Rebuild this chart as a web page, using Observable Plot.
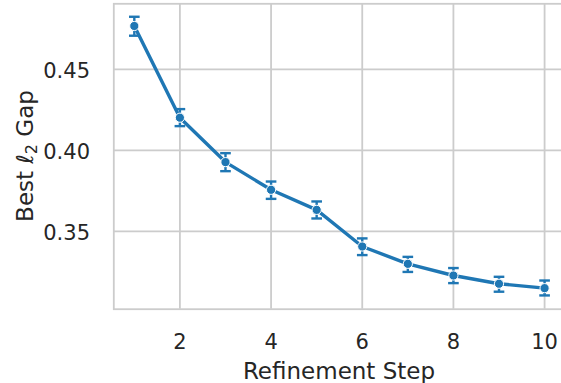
<!DOCTYPE html>
<html>
<head>
<meta charset="utf-8">
<script src="https://cdn.jsdelivr.net/npm/d3@7"></script>
<script src="https://cdn.jsdelivr.net/npm/@observablehq/plot@0.6"></script>
<style>
  html, body { margin: 0; padding: 0; background: #fff; }
  #chart svg { display: block; overflow: hidden; }
</style>
</head>
<body>
<div id="chart"></div>
<script>
// Refinement steps and the mean best l2 gap at each step, with its confidence interval
const steps = [1, 2, 3, 4, 5, 6, 7, 8, 9, 10];
const gap   = [0.4768, 0.4202, 0.3928, 0.3757, 0.3633, 0.3407, 0.3300, 0.3228, 0.3177, 0.3150];
const lower = [0.4708, 0.4150, 0.3872, 0.3701, 0.3580, 0.3354, 0.3250, 0.3181, 0.3128, 0.3105];
const upper = [0.4825, 0.4255, 0.3983, 0.3808, 0.3685, 0.3457, 0.3343, 0.3274, 0.3220, 0.3197];

const xTicks = [2, 4, 6, 8, 10];
const yTicks = [0.35, 0.40, 0.45];
const xLabel = "Refinement Step";

const rows = steps.map((s, i) => ({step: s, gap: gap[i], lo: lower[i], hi: upper[i]}));

const blue = "#1f77b4";
const ink = "#262626";
const gridColor = "#cccccc";

// horizontal cap drawn at the ends of each error bar
const capSymbol = {
  draw(context, size) {
    const w = Math.sqrt(size);
    context.moveTo(-w / 2, 0);
    context.lineTo(w / 2, 0);
  }
};

const chart = Plot.plot({
  width: 561,
  height: 383,
  marginLeft: 113.3,
  marginRight: -3.6,
  marginTop: 3.3,
  marginBottom: 74.3,
  style: {fontFamily: "DejaVu Sans", background: "#fff", color: ink},
  x: {domain: [0.55, 10.45]},
  y: {domain: [0.302, 0.4905]},
  marks: [
    Plot.gridX(xTicks, {stroke: gridColor, strokeOpacity: 1, strokeWidth: 1.8}),
    Plot.gridY(yTicks, {stroke: gridColor, strokeOpacity: 1, strokeWidth: 1.8}),
    Plot.frame({stroke: gridColor, strokeWidth: 1.8}),
    Plot.axisX(xTicks, {
      tickSize: 0, tickPadding: 24.7, fontSize: 21, label: null,
      tickFormat: d => String(d), fill: ink
    }),
    Plot.axisY(yTicks, {
      tickSize: 0, tickPadding: 23.8, fontSize: 21, label: null,
      tickFormat: d => d.toFixed(2), fill: ink, dy: 2
    }),
    Plot.line(rows, {x: "step", y: "gap", stroke: blue, strokeWidth: 3.4}),
    Plot.ruleX(rows, {x: "step", y1: "lo", y2: "hi", stroke: blue, strokeWidth: 2.4}),
    Plot.dot(rows, {x: "step", y: "lo", symbol: capSymbol, r: 6, stroke: blue, strokeWidth: 2.4, fill: "none"}),
    Plot.dot(rows, {x: "step", y: "hi", symbol: capSymbol, r: 6, stroke: blue, strokeWidth: 2.4, fill: "none"}),
    Plot.dot(rows, {x: "step", y: "gap", r: 4.6, fill: blue, stroke: "#fff", strokeWidth: 1})
  ]
});

const svg = d3.select(chart);

// x axis title
svg.append("text")
  .attr("x", 339)
  .attr("y", 379)
  .attr("text-anchor", "middle")
  .attr("font-family", "DejaVu Sans")
  .attr("font-size", 23)
  .attr("fill", ink)
  .text(xLabel);

// y axis title with an italic ell and a subscript 2
const yTitle = svg.append("text")
  .attr("transform", "translate(33.3,156) rotate(-90)")
  .attr("text-anchor", "middle")
  .attr("font-family", "DejaVu Sans")
  .attr("font-size", 23)
  .attr("fill", ink);
yTitle.append("tspan").text("Best ");
yTitle.append("tspan").attr("font-style", "italic").text("ℓ");
yTitle.append("tspan").attr("font-size", 16).attr("dy", 4).text("2");
yTitle.append("tspan").attr("dy", -4).text(" Gap");

document.getElementById("chart").appendChild(chart);
</script>
</body>
</html>
